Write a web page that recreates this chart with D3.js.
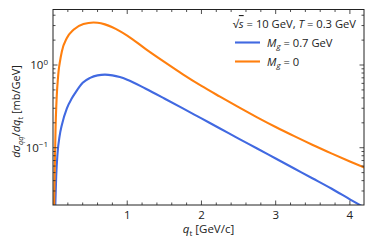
<!DOCTYPE html>
<html>
<head>
<meta charset="utf-8">
<script src="https://cdn.jsdelivr.net/npm/d3@7"></script>
<style>
  body { margin: 0; background: white; }
  text { font-family: "Open Sans", "Noto Sans", sans-serif; fill: #222; }
</style>
</head>
<body>
<div id="chart"></div>
<script>
// M_g = 0 (orange): q_t [GeV/c] and dsigma/dq_t [mb/GeV]
const qtMassless = [0.012, 0.016, 0.026, 0.035, 0.045, 0.055, 0.065, 0.075, 0.09, 0.12, 0.187, 0.276, 0.41, 0.546, 0.6,
  0.7, 0.8, 0.9, 1.0, 1.25, 1.5, 1.75, 2.0, 2.25, 2.5, 2.75, 3.0, 3.25, 3.5, 3.75, 4.0, 4.2];
const massless = [0.008, 0.02, 0.07, 0.18, 0.33, 0.5, 0.66, 0.84, 1.05, 1.47, 2.12, 2.67, 3.13, 3.27, 3.25,
  3.10, 2.86, 2.57, 2.27, 1.556, 1.089, 0.771, 0.558, 0.414, 0.309, 0.233, 0.178, 0.138, 0.108, 0.0855, 0.0682, 0.0573];

// M_g = 0.7 GeV (blue)
const qtMassive = [0.025, 0.03, 0.043, 0.061, 0.09, 0.12, 0.187, 0.25, 0.3, 0.4, 0.5, 0.6, 0.7, 0.8, 0.9, 1.0,
  1.25, 1.5, 1.75, 2.0, 2.25, 2.5, 2.75, 3.0, 3.25, 3.5, 3.75, 4.0, 4.2];
const massive = [0.012, 0.019, 0.045, 0.085, 0.14, 0.19, 0.30, 0.39, 0.46, 0.61, 0.70, 0.75, 0.765, 0.75, 0.715, 0.665,
  0.516, 0.394, 0.299, 0.226, 0.171, 0.129, 0.098, 0.0741, 0.0561, 0.0425, 0.0321, 0.0238, 0.0188];

const xMajor = [1, 2, 3, 4];
const yMajor = [0.1, 1];

const series = [
  { key: "massive", q: qtMassive, values: massive, color: "#4169e1" },
  { key: "massless", q: qtMassless, values: massless, color: "#ff7f0e" },
];

const dimensions = {
  width: 374,
  height: 249,
  margins: { left: 53, right: 10, top: 9.5, bottom: 44 },
};
const innerW = dimensions.width - dimensions.margins.left - dimensions.margins.right;
const innerH = dimensions.height - dimensions.margins.top - dimensions.margins.bottom;

const x = d3.scaleLinear().domain([0, 4.19]).range([0, innerW]);
const y = d3.scaleLog().domain([0.0203, 4.69]).range([innerH, 0]);

const svg = d3.select("#chart")
  .append("svg")
  .attr("width", dimensions.width)
  .attr("height", dimensions.height)
  .append("g")
  .attr("transform", `translate(${dimensions.margins.left},${dimensions.margins.top})`);

svg.append("defs").append("clipPath").attr("id", "clip")
  .append("rect").attr("width", innerW).attr("height", innerH);

// curves
const line = d3.line()
  .curve(d3.curveMonotoneX)
  .x((d) => x(d[0]))
  .y((d) => y(d[1]));

series.forEach((s) => {
  svg.append("path")
    .attr("clip-path", "url(#clip)")
    .attr("fill", "none")
    .attr("stroke", s.color)
    .attr("stroke-width", 2.1)
    .attr("d", line(s.q.map((q, i) => [q, s.values[i]])));
});

// ticks (inward, on all sides)
const xMinor = d3.range(0.2, 4.19, 0.2).filter((v) => Math.abs(v - Math.round(v)) > 0.01);
const yMinor = [];
[0.01, 0.1, 1].forEach((dec) => {
  for (let k = 2; k <= 9; k++) {
    const v = dec * k;
    if (v > 0.0203 && v < 4.69) yMinor.push(v);
  }
});

const tickG = svg.append("g").attr("stroke", "#222").attr("stroke-width", 0.8);
const addXTicks = (vals, len) => {
  vals.forEach((v) => {
    tickG.append("line").attr("x1", x(v)).attr("x2", x(v)).attr("y1", innerH).attr("y2", innerH - len);
    tickG.append("line").attr("x1", x(v)).attr("x2", x(v)).attr("y1", 0).attr("y2", len);
  });
};
const addYTicks = (vals, len) => {
  vals.forEach((v) => {
    tickG.append("line").attr("y1", y(v)).attr("y2", y(v)).attr("x1", 0).attr("x2", len);
    tickG.append("line").attr("y1", y(v)).attr("y2", y(v)).attr("x1", innerW).attr("x2", innerW - len);
  });
};
addXTicks(xMajor, 4.5);
addXTicks(xMinor, 2.5);
addYTicks(yMajor, 4.5);
addYTicks(yMinor, 2.5);

// frame
svg.append("rect")
  .attr("width", innerW)
  .attr("height", innerH)
  .attr("fill", "none")
  .attr("stroke", "#222")
  .attr("stroke-width", 1);

// tick labels
svg.selectAll("text.xt")
  .data(xMajor)
  .enter()
  .append("text")
  .attr("class", "xt")
  .attr("x", (d) => x(d))
  .attr("y", innerH + 13.5)
  .attr("text-anchor", "middle")
  .attr("font-size", 11.5)
  .text((d) => d);

const yt = svg.selectAll("text.yt")
  .data(yMajor)
  .enter()
  .append("text")
  .attr("class", "yt")
  .attr("x", -5)
  .attr("y", (d) => y(d) + 4)
  .attr("text-anchor", "end")
  .attr("font-size", 11.5);
yt.append("tspan").text("10");
yt.append("tspan").attr("dy", -4.5).attr("font-size", 8).text((d) => (d === 1 ? "0" : "\u22121"));

// axis labels
const xl = svg.append("text")
  .attr("x", innerW / 2)
  .attr("y", innerH + 28)
  .attr("text-anchor", "middle")
  .attr("font-size", 11.5);
xl.append("tspan").attr("font-style", "italic").text("q");
xl.append("tspan").attr("dy", 2.5).attr("font-size", 8).text("t");
xl.append("tspan").attr("dy", -2.5).text(" [GeV/c]");

const yl = svg.append("text")
  .attr("transform", `translate(${-33},${102}) rotate(-90)`)
  .attr("text-anchor", "middle")
  .attr("font-size", 11);
yl.append("tspan").attr("font-style", "italic").text("d\u03c3");
yl.append("tspan").attr("dy", 2.5).attr("font-size", 7.5).attr("font-style", "italic").text("qq");
yl.append("tspan").attr("dy", -2.5).text("/");
yl.append("tspan").attr("font-style", "italic").text("dq");
yl.append("tspan").attr("dy", 2.5).attr("font-size", 7.5).text("t");
yl.append("tspan").attr("dy", -2.5).text(" [mb/GeV]");

// legend
const lg = svg.append("g").attr("transform", `translate(${innerW - 8},0)`);
const title = lg.append("text")
  .attr("x", 0)
  .attr("y", 18.5)
  .attr("text-anchor", "end")
  .attr("font-size", 11.2);
title.append("tspan").text("\u221a");
title.append("tspan").attr("font-style", "italic").style("text-decoration", "overline").text("s");
title.append("tspan").text(" = 10 GeV, ");
title.append("tspan").attr("font-style", "italic").text("T");
title.append("tspan").text(" = 0.3 GeV");

const legendItems = [
  { color: "#4169e1", label: " = 0.7 GeV" },
  { color: "#ff7f0e", label: " = 0" },
];
legendItems.forEach((item, i) => {
  const yy = 33 + i * 19;
  lg.append("line")
    .attr("x1", 243 - 364)
    .attr("x2", 268 - 364)
    .attr("y1", yy)
    .attr("y2", yy)
    .attr("stroke", item.color)
    .attr("stroke-width", 2.1);
  const t = lg.append("text")
    .attr("x", 275 - 364)
    .attr("y", yy + 4)
    .attr("font-size", 11.2);
  t.append("tspan").attr("font-style", "italic").text("M");
  t.append("tspan").attr("dy", 2.5).attr("font-size", 8).attr("font-style", "italic").text("g");
  t.append("tspan").attr("dy", -2.5).text(item.label);
});
</script>
</body>
</html>
